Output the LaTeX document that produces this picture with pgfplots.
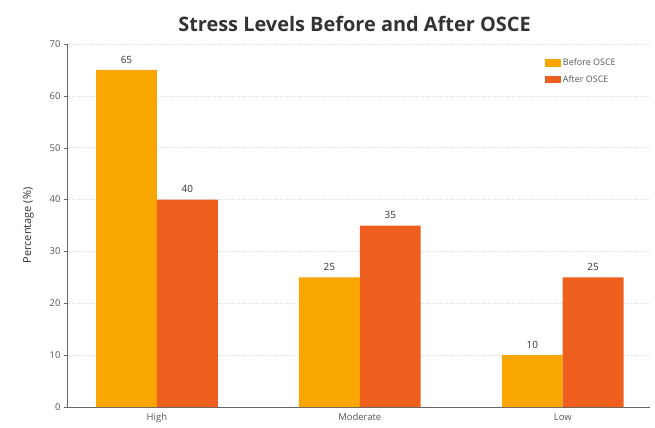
\documentclass[border=0pt]{standalone}
\usepackage{pgfplots}
\pgfplotsset{compat=1.18}
\usepackage{fontspec}
\setmainfont{Open Sans}
\definecolor{before}{HTML}{F9A602}
\definecolor{after}{HTML}{EE5F1E}
\definecolor{axisgray}{HTML}{666666}
\definecolor{gridgray}{HTML}{DDDDDD}
\definecolor{txt}{HTML}{333333}
\definecolor{ticktxt}{HTML}{555555}

\begin{document}
\begin{tikzpicture}[x=1bp,y=1bp]
\begin{axis}[
  at={(0,0)}, anchor=south west,
  scale only axis,
  width=583bp, height=363bp,
  ymin=0, ymax=70,
  xmin=-0.443, xmax=2.43,
  ytick={0,10,...,70},
  xtick={0,1,2},
  xticklabels={High,Moderate,Low},
  major x tick style={draw=none},
  axis lines=left,
  axis line style={draw=axisgray, line width=0.8pt, -},
  ytick style={draw=axisgray},
  tick align=outside,
  major tick length=3bp,
  ymajorgrids,
  grid style={draw=gridgray, dotted, line width=0.6pt},
  ybar, bar width=0.30,
  tick label style={font=\fontsize{9.5}{12}\selectfont, text=ticktxt},
  /pgf/number format/assume math mode=true,
  ylabel={Percentage (\%)},
  ylabel style={font=\fontsize{11}{13}\selectfont, text=txt, yshift=9bp},
  title={\textbf{Stress Levels Before and After OSCE}},
  title style={font=\fontsize{20}{24}\selectfont, text=txt, yshift=3bp, xshift=-4bp},
  nodes near coords,
  every node near coord/.append style={font=\fontsize{10}{12}\selectfont, text=txt, yshift=3bp},
  legend style={draw=none, fill=none, at={(0.95,0.97)}, anchor=north east,
    font=\fontsize{9}{11}\selectfont, text=ticktxt, row sep=4bp},
  legend cell align=left,
  legend image code/.code={\fill[#1] (0bp,-3.5bp) rectangle (16bp,4bp);},
  clip=false,
]
\addplot[draw=none, fill=before, bar shift=-0.15] coordinates {(0,65) (1,25) (2,10)};
\addplot[draw=none, fill=after, bar shift=0.15] coordinates {(0,40) (1,35) (2,25)};
\legend{Before OSCE, After OSCE}
\end{axis}
\path[use as bounding box] (-67bp,-21bp) rectangle (588bp,407bp);
\end{tikzpicture}
\end{document}
